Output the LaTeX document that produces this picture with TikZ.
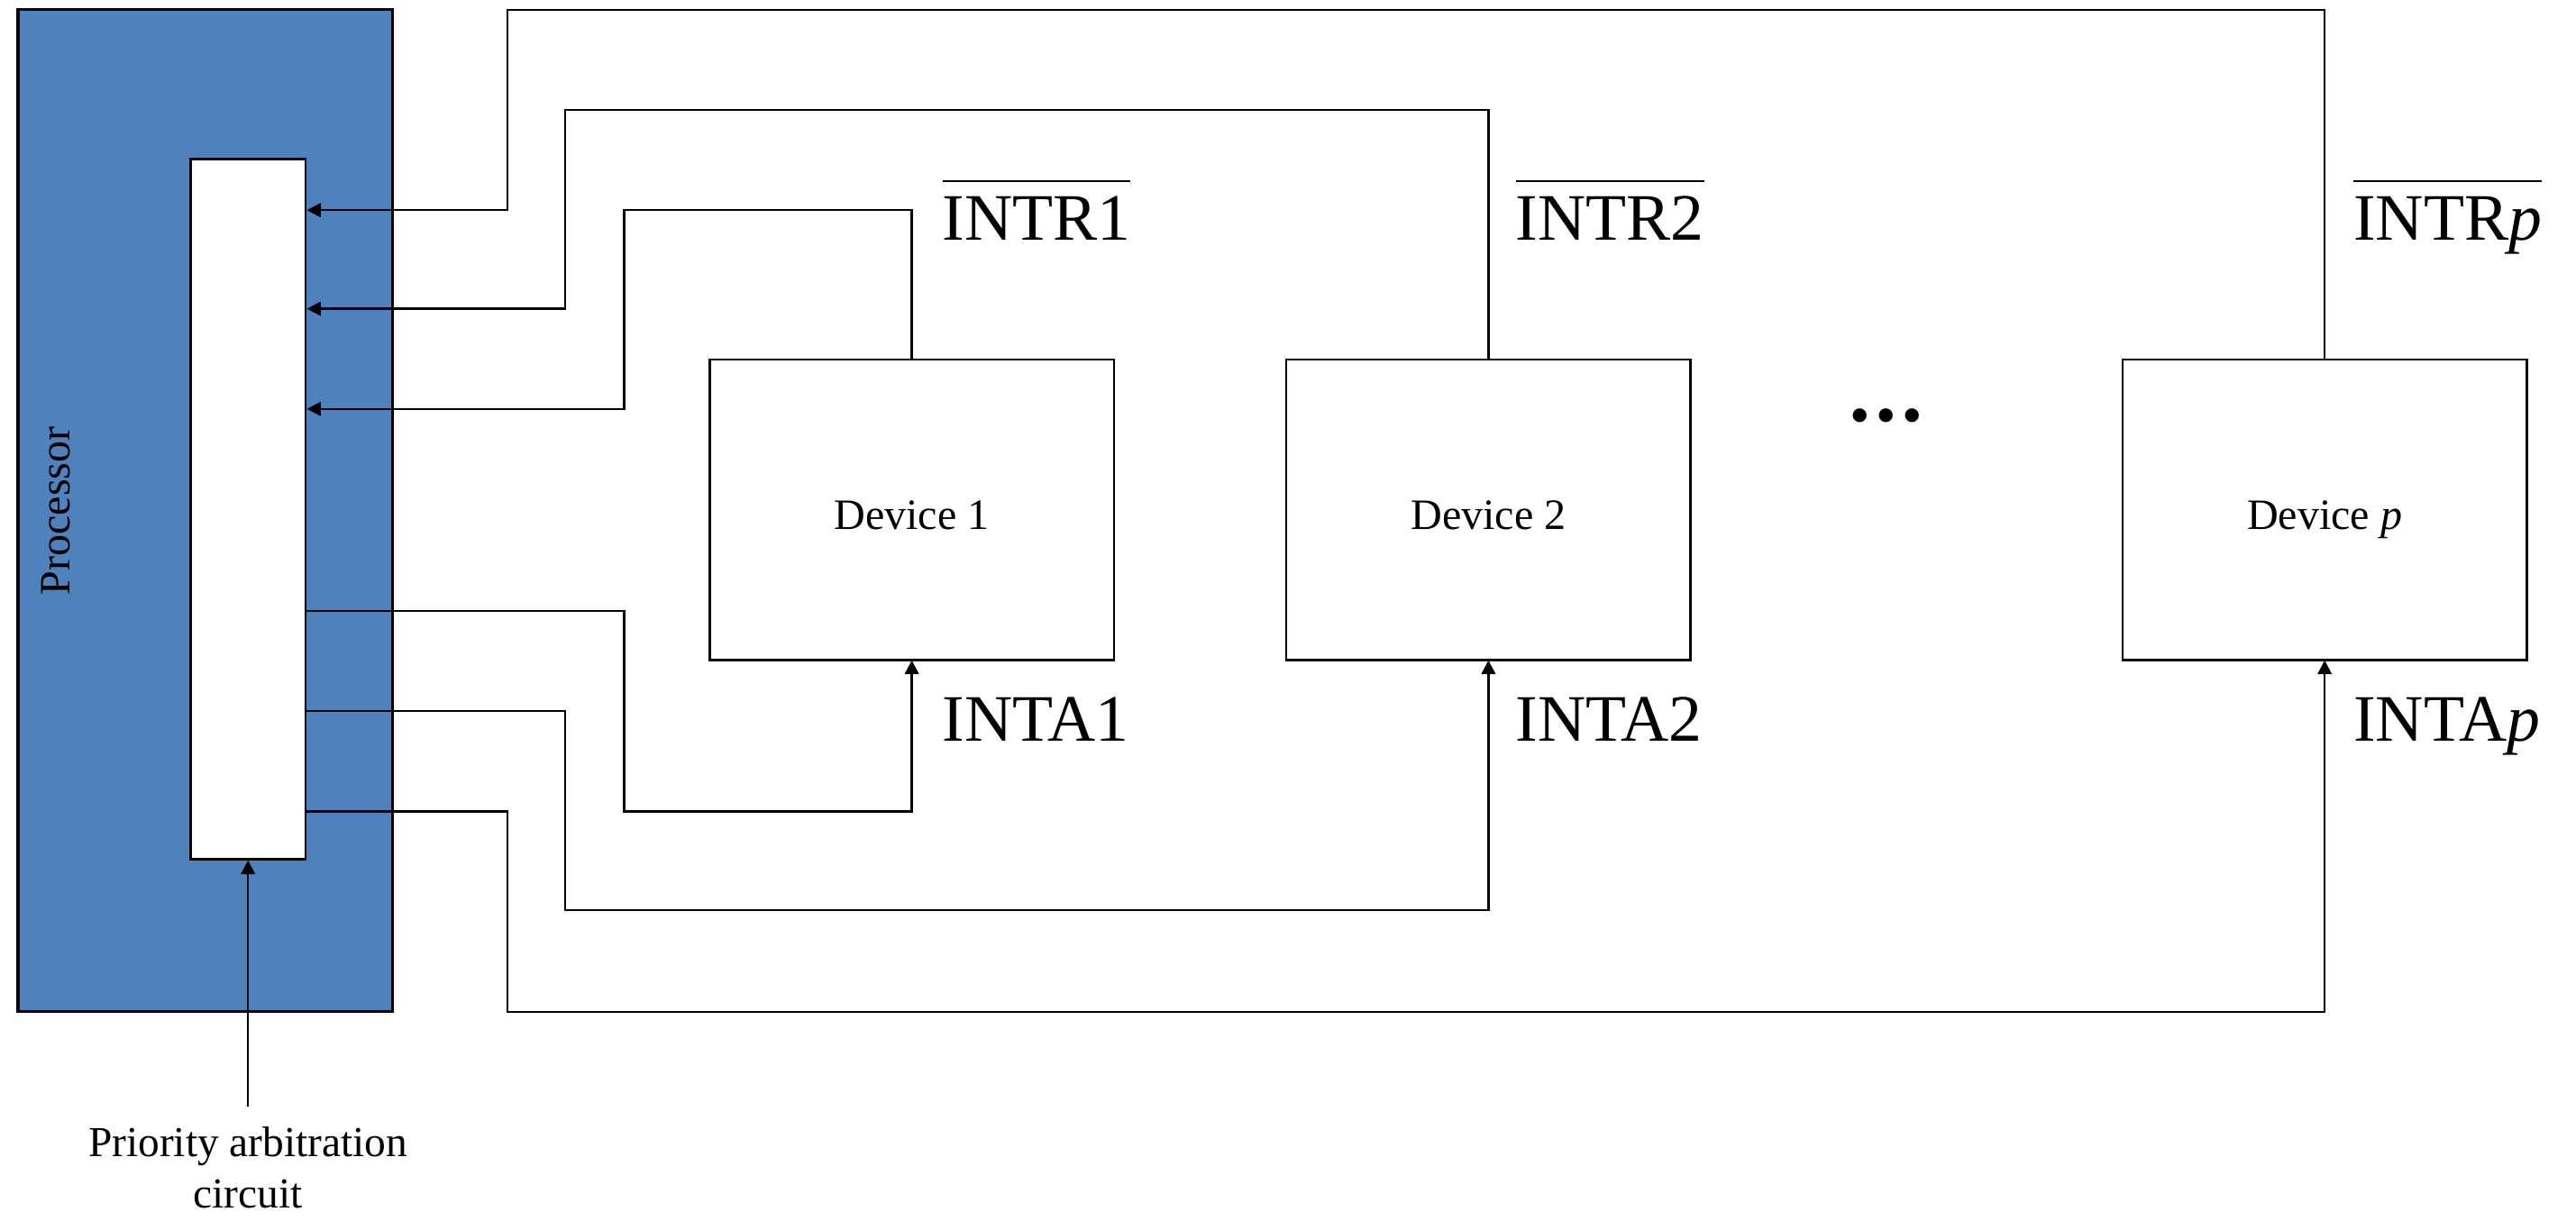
\documentclass[tikz,border=0pt]{standalone}
\usepackage{fontspec}
\setmainfont{Liberation Serif}
\usetikzlibrary{arrows.meta,positioning}
\definecolor{procColor}{HTML}{4F81BD}
\tikzset{device/.style={draw=black, line width=0.4pt, minimum width=2.46cm, minimum height=1.83cm, inner sep=0pt, outer sep=0pt, text height=6.7pt, text depth=0pt, font=\fontsize{7.5}{9}\selectfont}}
\tikzset{wire/.style={line width=0.38pt}}
\tikzset{sig/.style={wire, -{Triangle[length=2.4pt,width=2.4pt]}}}
\tikzset{pin lab/.style={inner sep=0pt, anchor=base west, font=\fontsize{11.5}{13}\selectfont}}
\newcommand{\lowAct}[1]{$\overline{\hbox{\rule{0pt}{0.76em}#1}}$}

\begin{document}
\begin{tikzpicture}
	\useasboundingbox (0,0) rectangle (15.68,7.43);
	% processor and its arbitration circuit
	\node[draw=black, fill=procColor, line width=0.5pt, minimum width=2.28cm, minimum height=6.10cm] at (1.25,4.32) (proc) {};
	\node[rotate=90, font=\fontsize{7.5}{9}\selectfont] at (0.34,4.32) (procLab) {Processor};
	\node[draw=black, fill=white, line width=0.45pt, minimum width=0.70cm, minimum height=4.26cm] at (1.51,4.33) (arb) {};
	\node[align=center, inner sep=0pt, font=\fontsize{7.4}{8.8}\selectfont] at (1.51,0.32) (prio) {Priority arbitration\\circuit};
	\draw[sig] ([yshift=0.12cm]prio.north) -- (arb.south);

	% devices
	\node[device] at (5.55,4.325) (dev_1) {Device 1};
	\node[device, right=1.05cm of dev_1] (dev_2) {Device 2};
	\node[device, right=2.63cm of dev_2] (dev_p) {Device \textit{p}};
	\node[inner sep=0pt, font=\fontsize{10}{12}\selectfont] at (11.48,4.86) (dots) {\textbullet\hspace{1.05pt}\textbullet\hspace{1.05pt}\textbullet};

	% bends of the request and acknowledge lines
	\coordinate (r_1) at (3.80,6.15);
	\coordinate (r_2) at (3.44,6.76);
	\coordinate (r_p) at (3.09,7.37);
	\coordinate (a_1) at (3.80,2.49);
	\coordinate (a_2) at (3.44,1.89);
	\coordinate (a_p) at (3.09,1.27);

	% interrupt requests
	\draw[sig] (dev_1.north) |- (r_1) |- (arb.east |- 0,4.94);
	\draw[sig] (dev_2.north) |- (r_2) |- (arb.east |- 0,5.55);
	\draw[sig] (dev_p.north) |- (r_p) |- (arb.east |- 0,6.15);
	% acknowledges
	\draw[sig] (arb.east |- 0,3.71) -| (a_1) -| (dev_1.south);
	\draw[sig] (arb.east |- 0,3.10) -| (a_2) -| (dev_2.south);
	\draw[sig] (arb.east |- 0,2.49) -| (a_p) -| (dev_p.south);

	\node[pin lab] at ([xshift=0.18cm, yshift=0.73cm]dev_1.north) (intr_1) {\lowAct{INTR1}};
	\node[pin lab] at ([xshift=0.16cm, yshift=0.73cm]dev_2.north) (intr_2) {\lowAct{INTR2}};
	\node[pin lab] at ([xshift=0.17cm, yshift=0.73cm]dev_p.north) (intr_p) {\lowAct{INTR\textit{p}}};
	\node[pin lab] at ([xshift=0.18cm, yshift=-0.49cm]dev_1.south) (inta_1) {INTA1};
	\node[pin lab] at ([xshift=0.16cm, yshift=-0.49cm]dev_2.south) (inta_2) {INTA2};
	\node[pin lab] at ([xshift=0.17cm, yshift=-0.49cm]dev_p.south) (inta_p) {INTA\textit{p}};
\end{tikzpicture}
\end{document}
